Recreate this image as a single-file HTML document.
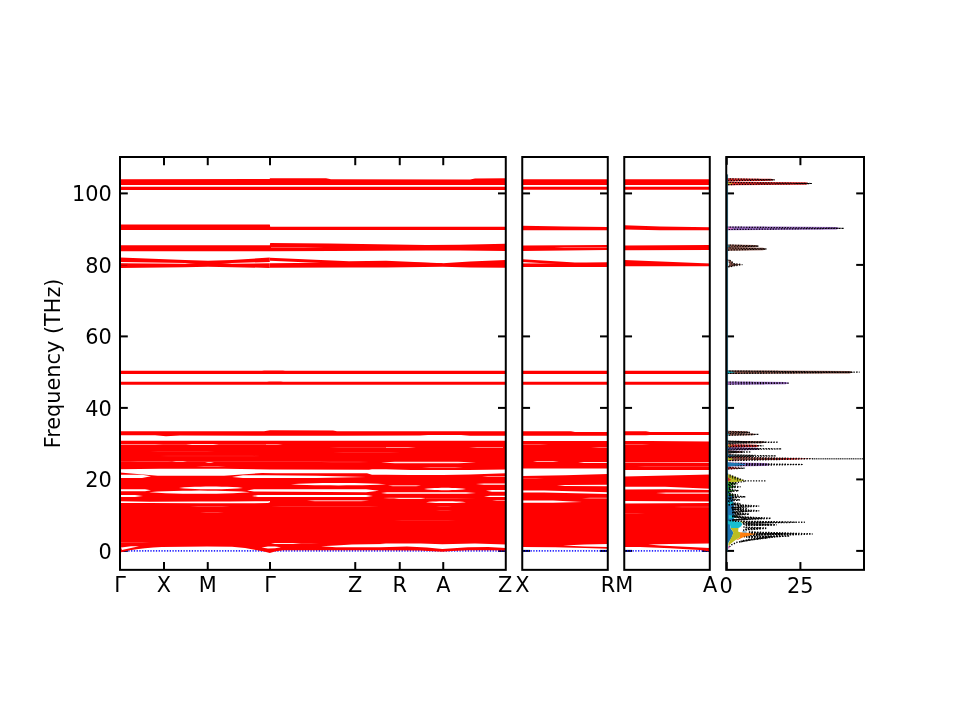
<!DOCTYPE html>
<html><head><meta charset="utf-8"><title>Phonon bands and DOS</title>
<style>html,body{margin:0;padding:0;background:#fff}svg{display:block}
text{font-family:"DejaVu Sans","Liberation Sans",sans-serif;font-size:20.83px;fill:#000}</style></head>
<body><svg width="960" height="720" viewBox="0 0 960 720">
<rect width="960" height="720" fill="#fff"/>
<path d="M120.00 550.90 L127.80 550.90" fill="none" stroke="#000" stroke-width="2.00" />
<path d="M505.78 550.90 L497.98 550.90" fill="none" stroke="#000" stroke-width="2.00" />
<path d="M120.00 479.40 L127.80 479.40" fill="none" stroke="#000" stroke-width="2.00" />
<path d="M505.78 479.40 L497.98 479.40" fill="none" stroke="#000" stroke-width="2.00" />
<path d="M120.00 407.90 L127.80 407.90" fill="none" stroke="#000" stroke-width="2.00" />
<path d="M505.78 407.90 L497.98 407.90" fill="none" stroke="#000" stroke-width="2.00" />
<path d="M120.00 336.40 L127.80 336.40" fill="none" stroke="#000" stroke-width="2.00" />
<path d="M505.78 336.40 L497.98 336.40" fill="none" stroke="#000" stroke-width="2.00" />
<path d="M120.00 264.90 L127.80 264.90" fill="none" stroke="#000" stroke-width="2.00" />
<path d="M505.78 264.90 L497.98 264.90" fill="none" stroke="#000" stroke-width="2.00" />
<path d="M120.00 193.40 L127.80 193.40" fill="none" stroke="#000" stroke-width="2.00" />
<path d="M505.78 193.40 L497.98 193.40" fill="none" stroke="#000" stroke-width="2.00" />
<path d="M164.00 569.85 L164.00 562.05" fill="none" stroke="#000" stroke-width="2.00" />
<path d="M164.00 157.00 L164.00 165.20" fill="none" stroke="#000" stroke-width="2.00" />
<path d="M207.75 569.85 L207.75 562.05" fill="none" stroke="#000" stroke-width="2.00" />
<path d="M207.75 157.00 L207.75 165.20" fill="none" stroke="#000" stroke-width="2.00" />
<path d="M270.00 569.85 L270.00 562.05" fill="none" stroke="#000" stroke-width="2.00" />
<path d="M270.00 157.00 L270.00 165.20" fill="none" stroke="#000" stroke-width="2.00" />
<path d="M355.25 569.85 L355.25 562.05" fill="none" stroke="#000" stroke-width="2.00" />
<path d="M355.25 157.00 L355.25 165.20" fill="none" stroke="#000" stroke-width="2.00" />
<path d="M399.75 569.85 L399.75 562.05" fill="none" stroke="#000" stroke-width="2.00" />
<path d="M399.75 157.00 L399.75 165.20" fill="none" stroke="#000" stroke-width="2.00" />
<path d="M443.25 569.85 L443.25 562.05" fill="none" stroke="#000" stroke-width="2.00" />
<path d="M443.25 157.00 L443.25 165.20" fill="none" stroke="#000" stroke-width="2.00" />
<path d="M522.25 550.90 L530.05 550.90" fill="none" stroke="#000" stroke-width="2.00" />
<path d="M607.78 550.90 L599.98 550.90" fill="none" stroke="#000" stroke-width="2.00" />
<path d="M522.25 479.40 L530.05 479.40" fill="none" stroke="#000" stroke-width="2.00" />
<path d="M607.78 479.40 L599.98 479.40" fill="none" stroke="#000" stroke-width="2.00" />
<path d="M522.25 407.90 L530.05 407.90" fill="none" stroke="#000" stroke-width="2.00" />
<path d="M607.78 407.90 L599.98 407.90" fill="none" stroke="#000" stroke-width="2.00" />
<path d="M522.25 336.40 L530.05 336.40" fill="none" stroke="#000" stroke-width="2.00" />
<path d="M607.78 336.40 L599.98 336.40" fill="none" stroke="#000" stroke-width="2.00" />
<path d="M522.25 264.90 L530.05 264.90" fill="none" stroke="#000" stroke-width="2.00" />
<path d="M607.78 264.90 L599.98 264.90" fill="none" stroke="#000" stroke-width="2.00" />
<path d="M522.25 193.40 L530.05 193.40" fill="none" stroke="#000" stroke-width="2.00" />
<path d="M607.78 193.40 L599.98 193.40" fill="none" stroke="#000" stroke-width="2.00" />
<path d="M624.25 550.90 L632.05 550.90" fill="none" stroke="#000" stroke-width="2.00" />
<path d="M709.78 550.90 L701.98 550.90" fill="none" stroke="#000" stroke-width="2.00" />
<path d="M624.25 479.40 L632.05 479.40" fill="none" stroke="#000" stroke-width="2.00" />
<path d="M709.78 479.40 L701.98 479.40" fill="none" stroke="#000" stroke-width="2.00" />
<path d="M624.25 407.90 L632.05 407.90" fill="none" stroke="#000" stroke-width="2.00" />
<path d="M709.78 407.90 L701.98 407.90" fill="none" stroke="#000" stroke-width="2.00" />
<path d="M624.25 336.40 L632.05 336.40" fill="none" stroke="#000" stroke-width="2.00" />
<path d="M709.78 336.40 L701.98 336.40" fill="none" stroke="#000" stroke-width="2.00" />
<path d="M624.25 264.90 L632.05 264.90" fill="none" stroke="#000" stroke-width="2.00" />
<path d="M709.78 264.90 L701.98 264.90" fill="none" stroke="#000" stroke-width="2.00" />
<path d="M624.25 193.40 L632.05 193.40" fill="none" stroke="#000" stroke-width="2.00" />
<path d="M709.78 193.40 L701.98 193.40" fill="none" stroke="#000" stroke-width="2.00" />
<path d="M726.25 550.90 L734.05 550.90" fill="none" stroke="#000" stroke-width="2.00" />
<path d="M864.00 550.90 L856.20 550.90" fill="none" stroke="#000" stroke-width="2.00" />
<path d="M726.25 479.40 L734.05 479.40" fill="none" stroke="#000" stroke-width="2.00" />
<path d="M864.00 479.40 L856.20 479.40" fill="none" stroke="#000" stroke-width="2.00" />
<path d="M726.25 407.90 L734.05 407.90" fill="none" stroke="#000" stroke-width="2.00" />
<path d="M864.00 407.90 L856.20 407.90" fill="none" stroke="#000" stroke-width="2.00" />
<path d="M726.25 336.40 L734.05 336.40" fill="none" stroke="#000" stroke-width="2.00" />
<path d="M864.00 336.40 L856.20 336.40" fill="none" stroke="#000" stroke-width="2.00" />
<path d="M726.25 264.90 L734.05 264.90" fill="none" stroke="#000" stroke-width="2.00" />
<path d="M864.00 264.90 L856.20 264.90" fill="none" stroke="#000" stroke-width="2.00" />
<path d="M726.25 193.40 L734.05 193.40" fill="none" stroke="#000" stroke-width="2.00" />
<path d="M864.00 193.40 L856.20 193.40" fill="none" stroke="#000" stroke-width="2.00" />
<path d="M800.40 569.85 L800.40 562.05" fill="none" stroke="#000" stroke-width="2.00" />
<path d="M800.40 157.00 L800.40 165.20" fill="none" stroke="#000" stroke-width="2.00" />
<path d="M726.75 157.00 L726.75 164.80" fill="none" stroke="#000" stroke-width="2.00" />
<path d="M726.75 569.85 L726.75 562.05" fill="none" stroke="#000" stroke-width="2.00" />
<defs>
<clipPath id="c0"><rect x="120.00" y="157.00" width="385.78" height="412.85"/></clipPath>
<clipPath id="c1"><rect x="522.25" y="157.00" width="85.53" height="412.85"/></clipPath>
<clipPath id="c2"><rect x="624.25" y="157.00" width="85.53" height="412.85"/></clipPath>
<clipPath id="c3"><rect x="726.25" y="157.00" width="137.75" height="412.85"/></clipPath>
</defs>
<path d="M120.00 550.90 H505.78" stroke="#0000ff" stroke-width="1.6" stroke-dasharray="1.3 1.46" stroke-opacity="0.85" fill="none"/>
<path d="M522.25 550.90 H607.78" stroke="#0000ff" stroke-width="1.6" stroke-dasharray="1.3 1.46" stroke-opacity="0.85" fill="none"/>
<path d="M624.25 550.90 H709.78" stroke="#0000ff" stroke-width="1.6" stroke-dasharray="1.3 1.46" stroke-opacity="0.85" fill="none"/>
<g clip-path="url(#c0)">
<path d="M120.00 179.20 L269.60 179.10 L270.00 178.20 L326.00 178.30 L331.00 179.20 L470.00 179.40 L475.00 178.40 L505.70 178.30 L505.70 185.00 L475.00 185.00 L470.00 185.00 L331.00 185.00 L326.00 185.00 L270.00 185.00 L269.60 185.00 L120.00 185.00Z" fill="#ff0000" />
<path d="M120.00 186.70 L505.70 186.70 L505.70 190.00 L120.00 190.00Z" fill="#ff0000" />
<path d="M120.00 224.60 L269.80 224.50 L270.20 226.70 L505.70 226.70 L505.70 230.00 L270.20 230.00 L269.80 230.00 L120.00 230.00Z" fill="#ff0000" />
<path d="M120.00 245.30 L269.80 245.20 L270.20 242.90 L330.00 243.60 L426.00 245.00 L460.00 244.80 L505.70 243.80 L505.70 250.90 L460.00 250.60 L426.00 250.50 L330.00 251.00 L270.20 251.20 L269.80 251.20 L120.00 251.20Z" fill="#ff0000" />
<path d="M271.00 247.00 L304.00 247.00 L324.00 247.25 L304.00 247.50 L271.00 247.50Z" fill="#ffffff" fill-opacity="0.60"/>
<path d="M120.00 257.50 L185.00 259.90 L208.00 260.80 L232.00 259.90 L269.80 257.50 L269.80 261.90 L232.00 263.10 L208.00 265.00 L185.00 263.10 L120.00 262.00Z" fill="#ff0000" />
<path d="M120.00 263.30 L185.00 263.80 L208.00 262.50 L232.00 263.80 L269.80 263.30 L269.80 267.90 L232.00 267.20 L208.00 266.70 L185.00 267.20 L120.00 268.00Z" fill="#ff0000" />
<path d="M121.00 264.90 L127.30 264.90 L127.30 265.70 L121.00 265.70Z" fill="#990000" fill-opacity="0.75"/>
<path d="M270.00 257.80 L349.00 261.30 L386.00 260.80 L442.70 263.30 L442.70 265.00 L386.00 264.00 L349.00 264.30 L270.00 260.80Z" fill="#ff0000" />
<path d="M270.00 263.30 L349.00 262.60 L386.00 262.00 L442.70 263.30 L470.00 261.60 L505.70 260.00 L505.70 267.80 L470.00 267.40 L442.70 266.70 L386.00 267.50 L349.00 267.50 L270.00 267.80Z" fill="#ff0000" />
<path d="M120.00 370.70 L262.00 370.70 L264.00 370.40 L283.00 370.40 L285.00 370.70 L505.70 370.70 L505.70 373.90 L285.00 373.90 L283.00 373.90 L264.00 373.90 L262.00 373.90 L120.00 373.90Z" fill="#ff0000" />
<path d="M120.00 381.70 L267.00 381.70 L269.00 381.40 L281.00 381.40 L283.00 381.70 L505.70 381.70 L505.70 384.80 L283.00 384.80 L281.00 384.80 L269.00 384.80 L267.00 384.80 L120.00 384.80Z" fill="#ff0000" />
<path d="M120.00 431.20 L155.00 431.20 L166.00 431.20 L180.00 431.20 L264.00 431.20 L270.00 430.30 L333.00 430.40 L337.00 431.30 L420.00 431.30 L428.00 431.30 L461.00 431.30 L470.00 431.30 L505.70 431.30 L505.70 435.80 L470.00 435.80 L461.00 435.00 L428.00 435.00 L420.00 435.60 L337.00 435.80 L333.00 435.80 L270.00 435.80 L264.00 435.80 L180.00 435.60 L166.00 436.30 L155.00 435.30 L120.00 435.30Z" fill="#ff0000" />
<path d="M120.00 440.80 L505.70 440.80 L505.70 550.50 L490.00 550.30 L468.00 550.30 L452.00 551.00 L442.30 551.70 L433.00 551.20 L420.00 550.50 L380.00 550.30 L350.00 550.20 L330.00 550.20 L300.00 550.20 L283.00 550.30 L275.00 551.60 L269.80 552.90 L264.00 551.60 L256.00 550.00 L245.00 548.00 L232.00 546.80 L207.00 546.60 L185.00 546.70 L161.80 546.90 L153.30 547.40 L145.00 548.20 L136.70 549.20 L128.30 550.50 L120.00 552.40Z" fill="#ff0000" />
<path d="M120.00 444.20 L155.00 444.20 L163.00 444.55 L155.00 444.90 L120.00 444.90Z" fill="#ffffff" fill-opacity="0.55"/>
<path d="M186.00 444.50 L192.00 444.00 L213.00 444.00 L219.00 444.50 L213.00 445.00 L192.00 445.00Z" fill="#ffffff" fill-opacity="0.85"/>
<path d="M266.00 444.20 L278.00 444.20 L283.00 444.55 L278.00 444.90 L266.00 444.90Z" fill="#ffffff" fill-opacity="0.50"/>
<path d="M329.00 447.50 L339.00 447.20 L406.00 447.20 L416.00 447.50 L406.00 447.80 L339.00 447.80Z" fill="#ffffff" fill-opacity="0.35"/>
<path d="M386.00 447.10 L408.00 447.10 L416.00 447.50 L408.00 447.90 L386.00 447.90Z" fill="#ffffff" fill-opacity="0.50"/>
<path d="M469.00 447.50 L477.00 447.10 L503.00 447.10 L503.00 447.90 L477.00 447.90Z" fill="#ffffff" fill-opacity="0.50"/>
<path d="M333.00 452.50 L343.00 452.20 L390.00 452.20 L400.00 452.50 L390.00 452.80 L343.00 452.80Z" fill="#ffffff" fill-opacity="0.25"/>
<path d="M172.00 461.30 L176.00 460.90 L183.00 460.90 L187.00 461.30 L183.00 461.70 L176.00 461.70Z" fill="#ffffff" fill-opacity="0.80"/>
<path d="M205.00 462.45 L208.00 462.00 L211.00 462.00 L214.00 462.45 L211.00 462.90 L208.00 462.90Z" fill="#ffffff" fill-opacity="0.70"/>
<path d="M130.00 461.25 L138.00 461.00 L168.00 461.00 L172.00 461.25 L168.00 461.50 L138.00 461.50Z" fill="#ffffff" fill-opacity="0.30"/>
<path d="M321.00 462.00 L331.00 461.70 L359.00 461.70 L369.00 462.00 L359.00 462.30 L331.00 462.30Z" fill="#ffffff" fill-opacity="0.35"/>
<path d="M381.00 462.50 L395.00 461.80 L458.00 461.80 L476.00 462.50 L458.00 463.20 L395.00 463.20Z" fill="#ffffff" fill-opacity="0.90"/>
<path d="M196.00 466.35 L204.00 466.00 L218.00 466.00 L226.00 466.35 L218.00 466.70 L204.00 466.70Z" fill="#ffffff" fill-opacity="0.45"/>
<path d="M422.00 467.45 L430.00 467.10 L455.00 467.10 L463.00 467.45 L455.00 467.80 L430.00 467.80Z" fill="#ffffff" fill-opacity="0.50"/>
<path d="M120.00 444.10 L276.00 444.10 L282.00 444.45 L276.00 444.80 L120.00 444.80Z" fill="#ffffff" fill-opacity="0.30"/>
<path d="M120.00 461.00 L320.00 461.00 L330.00 461.30 L320.00 461.60 L120.00 461.60Z" fill="#ffffff" fill-opacity="0.28"/>
<path d="M150.00 451.45 L158.00 451.20 L207.00 451.20 L215.00 451.45 L207.00 451.70 L158.00 451.70Z" fill="#ffffff" fill-opacity="0.20"/>
<path d="M160.00 456.05 L168.00 455.80 L252.00 455.80 L260.00 456.05 L252.00 456.30 L168.00 456.30Z" fill="#ffffff" fill-opacity="0.18"/>
<path d="M120.00 469.20 L160.00 468.70 L225.00 468.80 L270.00 469.60 L369.00 469.70 L372.00 469.20 L386.00 469.20 L411.00 470.00 L469.00 470.00 L505.70 469.60 L505.70 473.20 L470.00 474.40 L442.70 475.00 L410.00 474.90 L386.00 474.70 L372.00 474.70 L367.00 473.30 L276.00 473.20 L262.00 473.00 L224.00 475.80 L157.70 475.80 L140.00 474.20 L120.00 472.50Z" fill="#ffffff" />
<path d="M120.00 474.70 L142.00 474.70 L151.00 476.35 L142.00 478.00 L120.00 478.00Z" fill="#ffffff" />
<path d="M232.00 476.90 L243.00 475.20 L266.00 475.20 L316.00 475.80 L366.00 476.90 L316.00 478.00 L266.00 478.00 L243.00 478.00Z" fill="#ffffff" />
<path d="M482.00 476.35 L488.00 476.00 L505.70 476.00 L505.70 476.70 L488.00 476.70Z" fill="#ffffff" fill-opacity="0.70"/>
<path d="M120.00 489.20 L145.00 489.20 L151.00 490.25 L145.00 491.30 L120.00 491.30Z" fill="#ffffff" />
<path d="M179.00 487.90 L184.33 487.36 L189.67 487.04 L195.00 486.80 L200.33 486.63 L205.67 486.53 L211.00 486.50 L216.33 486.53 L221.67 486.63 L227.00 486.80 L232.33 487.04 L237.67 487.36 L243.00 487.90 L243.00 487.90 L237.67 488.44 L232.33 488.76 L227.00 489.00 L221.67 489.17 L216.33 489.27 L211.00 489.30 L205.67 489.27 L200.33 489.17 L195.00 489.00 L189.67 488.76 L184.33 488.44 L179.00 487.90Z" fill="#ffffff" />
<path d="M149.00 492.20 L157.42 491.58 L165.83 491.22 L174.25 490.94 L182.67 490.75 L191.08 490.64 L199.50 490.60 L207.92 490.64 L216.33 490.75 L224.75 490.94 L233.17 491.22 L241.58 491.58 L250.00 492.20 L250.00 492.20 L241.58 492.82 L233.17 493.18 L224.75 493.46 L216.33 493.65 L207.92 493.76 L199.50 493.80 L191.08 493.76 L182.67 493.65 L174.25 493.46 L165.83 493.18 L157.42 492.82 L149.00 492.20Z" fill="#ffffff" />
<path d="M247.00 490.40 L254.00 489.30 L366.00 489.20 L379.00 490.80 L366.00 492.20 L254.00 491.60Z" fill="#ffffff" />
<path d="M291.00 484.15 L298.92 483.66 L306.83 483.38 L314.75 483.17 L322.67 483.02 L330.58 482.93 L338.50 482.90 L346.42 482.93 L354.33 483.02 L362.25 483.17 L370.17 483.38 L378.08 483.66 L386.00 484.15 L386.00 484.15 L378.08 484.64 L370.17 484.92 L362.25 485.13 L354.33 485.28 L346.42 485.37 L338.50 485.40 L330.58 485.37 L322.67 485.28 L314.75 485.13 L306.83 484.92 L298.92 484.64 L291.00 484.15Z" fill="#ffffff" />
<path d="M388.00 485.80 L393.00 485.30 L416.00 485.30 L421.00 485.80 L416.00 486.30 L393.00 486.30Z" fill="#ffffff" fill-opacity="0.80"/>
<path d="M381.00 493.00 L387.00 492.20 L466.00 492.20 L476.00 493.00 L466.00 493.80 L387.00 493.80Z" fill="#ffffff" />
<path d="M476.00 484.05 L484.00 483.40 L505.70 483.40 L505.70 484.70 L484.00 484.70Z" fill="#ffffff" />
<path d="M424.00 489.00 L427.50 488.53 L431.00 488.26 L434.50 488.06 L438.00 487.91 L441.50 487.83 L445.00 487.80 L448.50 487.83 L452.00 487.91 L455.50 488.06 L459.00 488.26 L462.50 488.53 L466.00 489.00 L466.00 489.00 L462.50 489.47 L459.00 489.74 L455.50 489.94 L452.00 490.09 L448.50 490.17 L445.00 490.20 L441.50 490.17 L438.00 490.09 L434.50 489.94 L431.00 489.74 L427.50 489.47 L424.00 489.00Z" fill="#ffffff" />
<path d="M486.00 490.85 L492.00 490.00 L505.70 490.00 L505.70 491.70 L492.00 491.70Z" fill="#ffffff" />
<path d="M120.00 495.00 L135.00 495.00 L143.00 496.00 L135.00 497.00 L120.00 497.00Z" fill="#ffffff" />
<path d="M252.00 496.00 L258.00 495.00 L366.00 495.00 L373.00 496.00 L366.00 497.00 L258.00 497.00Z" fill="#ffffff" />
<path d="M383.00 498.05 L389.00 497.70 L420.00 497.70 L426.00 498.05 L420.00 498.40 L389.00 498.40Z" fill="#ffffff" fill-opacity="0.60"/>
<path d="M484.00 496.40 L490.00 495.80 L505.70 495.80 L505.70 497.00 L490.00 497.00Z" fill="#ffffff" />
<path d="M394.00 498.50 L399.00 498.00 L421.00 498.00 L426.00 498.50 L421.00 499.00 L399.00 499.00Z" fill="#ffffff" fill-opacity="0.80"/>
<path d="M426.00 498.30 L456.00 498.30 L476.00 498.55 L456.00 498.80 L426.00 498.80Z" fill="#ffffff" fill-opacity="0.35"/>
<path d="M120.00 501.20 L150.00 501.70 L200.00 501.60 L230.00 501.50 L268.00 501.30 L270.00 500.90 L270.00 502.20 L268.00 503.10 L230.00 503.30 L200.00 503.30 L150.00 502.90 L120.00 503.00Z" fill="#ffffff" />
<path d="M307.00 500.80 L315.00 500.30 L361.00 500.30 L369.00 500.80 L361.00 501.30 L315.00 501.30Z" fill="#ffffff" fill-opacity="0.80"/>
<path d="M426.00 502.15 L429.33 501.78 L432.67 501.57 L436.00 501.40 L439.33 501.29 L442.67 501.22 L446.00 501.20 L449.33 501.22 L452.67 501.29 L456.00 501.40 L459.33 501.57 L462.67 501.78 L466.00 502.15 L466.00 502.15 L462.67 502.52 L459.33 502.73 L456.00 502.90 L452.67 503.01 L449.33 503.08 L446.00 503.10 L442.67 503.08 L439.33 503.01 L436.00 502.90 L432.67 502.73 L429.33 502.52 L426.00 502.15Z" fill="#ffffff" />
<path d="M492.00 500.35 L497.00 500.00 L505.70 500.00 L505.70 500.70 L497.00 500.70Z" fill="#ffffff" fill-opacity="0.70"/>
<path d="M271.00 506.70 L281.00 506.40 L369.00 506.40 L379.00 506.70 L369.00 507.00 L281.00 507.00Z" fill="#ffffff" fill-opacity="0.30"/>
<path d="M190.00 506.60 L198.00 506.30 L222.00 506.30 L230.00 506.60 L222.00 506.90 L198.00 506.90Z" fill="#ffffff" fill-opacity="0.30"/>
<path d="M200.00 512.60 L206.00 512.30 L218.00 512.30 L224.00 512.60 L218.00 512.90 L206.00 512.90Z" fill="#ffffff" fill-opacity="0.30"/>
<path d="M436.00 506.70 L440.00 506.40 L448.00 506.40 L452.00 506.70 L448.00 507.00 L440.00 507.00Z" fill="#ffffff" fill-opacity="0.35"/>
<path d="M436.00 510.50 L440.00 510.20 L448.00 510.20 L452.00 510.50 L448.00 510.80 L440.00 510.80Z" fill="#ffffff" fill-opacity="0.30"/>
<path d="M394.00 520.65 L402.00 520.40 L448.00 520.40 L456.00 520.65 L448.00 520.90 L402.00 520.90Z" fill="#ffffff" fill-opacity="0.20"/>
<path d="M271.00 543.30 L276.00 543.00 L311.00 543.00 L319.00 543.30 L311.00 543.60 L276.00 543.60Z" fill="#ffffff" fill-opacity="0.35"/>
<path d="M120.00 542.50 L142.00 542.50 L150.00 542.80 L142.00 543.10 L120.00 543.10Z" fill="#ffffff" fill-opacity="0.35"/>
<path d="M121.00 547.60 L131.00 546.20 L139.00 546.30 L131.00 548.00 L122.00 549.90Z" fill="#ffffff" />
<path d="M261.50 547.40 L268.00 546.60 L275.00 546.60 L281.00 547.30 L275.00 548.30 L268.00 548.40Z" fill="#ffffff" />
<path d="M271.00 543.50 L275.00 543.00 L293.00 543.00 L301.00 543.50 L293.00 544.00 L275.00 544.00Z" fill="#ffffff" fill-opacity="0.90"/>
<path d="M321.00 546.30 L336.00 545.60 L352.00 544.60 L386.00 544.00 L380.00 543.60 L420.60 543.50 L442.30 544.20 L475.00 543.50 L505.70 544.60 L505.70 547.90 L488.00 546.90 L468.00 547.30 L442.30 549.00 L427.00 547.60 L407.00 546.50 L380.00 547.30 L352.00 547.30 L336.00 547.30Z" fill="#ffffff" />
</g>
<g clip-path="url(#c1)">
<path d="M522.25 179.20 L607.78 179.20 L607.78 184.90 L522.25 184.90Z" fill="#ff0000" />
<path d="M522.25 186.80 L607.78 186.80 L607.78 189.80 L522.25 189.80Z" fill="#ff0000" />
<path d="M522.25 225.80 L565.00 226.60 L607.78 227.00 L607.78 230.20 L565.00 230.20 L522.25 230.20Z" fill="#ff0000" />
<path d="M522.25 245.50 L607.78 245.00 L607.78 250.00 L522.25 251.00Z" fill="#ff0000" />
<path d="M554.00 247.65 L564.00 247.40 L607.78 247.40 L607.78 247.90 L564.00 247.90Z" fill="#ffffff" fill-opacity="0.70"/>
<path d="M522.25 259.30 L575.00 262.40 L607.78 262.40 L607.78 265.50 L575.00 265.00 L522.25 261.90Z" fill="#ff0000" />
<path d="M522.25 263.60 L575.00 263.30 L607.78 262.40 L607.78 267.00 L575.00 267.00 L522.25 267.00Z" fill="#ff0000" />
<path d="M522.25 370.70 L607.78 370.70 L607.78 373.90 L522.25 373.90Z" fill="#ff0000" />
<path d="M522.25 381.70 L607.78 381.70 L607.78 384.80 L522.25 384.80Z" fill="#ff0000" />
<path d="M522.25 431.20 L571.00 431.20 L575.00 432.10 L607.78 432.10 L607.78 435.70 L575.00 435.70 L571.00 435.70 L522.25 435.70Z" fill="#ff0000" />
<path d="M522.25 440.90 L607.78 440.90 L607.78 548.80 L585.00 548.00 L555.00 547.20 L522.25 547.00Z" fill="#ff0000" />
<path d="M522.25 444.00 L540.00 444.00 L548.00 444.30 L540.00 444.60 L522.25 444.60Z" fill="#ffffff" fill-opacity="0.60"/>
<path d="M591.00 447.55 L599.00 447.20 L607.78 447.20 L607.78 447.90 L599.00 447.90Z" fill="#ffffff" fill-opacity="0.55"/>
<path d="M533.00 461.60 L537.00 461.20 L553.00 461.20 L559.00 461.60 L553.00 462.00 L537.00 462.00Z" fill="#ffffff" fill-opacity="0.90"/>
<path d="M578.00 462.55 L584.00 462.10 L607.78 462.10 L607.78 463.00 L584.00 463.00Z" fill="#ffffff" fill-opacity="0.90"/>
<path d="M522.25 468.50 L607.78 468.50 L607.78 474.10 L565.00 475.20 L522.25 476.00Z" fill="#ffffff" />
<path d="M522.25 478.20 L536.00 478.20 L544.00 478.50 L536.00 478.80 L522.25 478.80Z" fill="#ffffff" fill-opacity="0.45"/>
<path d="M557.00 485.40 L565.00 484.90 L607.78 484.70 L607.78 486.30 L565.00 485.90Z" fill="#ffffff" />
<path d="M522.25 490.60 L544.00 490.60 L607.78 492.20 L607.78 493.90 L544.00 492.50 L522.25 492.50Z" fill="#ffffff" />
<path d="M582.00 498.15 L590.00 497.80 L607.78 497.80 L607.78 498.50 L590.00 498.50Z" fill="#ffffff" fill-opacity="0.70"/>
<path d="M522.25 500.60 L553.00 500.60 L582.00 501.90 L553.00 502.80 L522.25 502.80Z" fill="#ffffff" />
<path d="M563.00 545.60 L585.00 544.60 L607.78 544.00 L607.78 547.00 L585.00 546.60Z" fill="#ffffff" />
</g>
<g clip-path="url(#c2)">
<path d="M624.25 179.20 L709.78 179.20 L709.78 184.90 L624.25 184.90Z" fill="#ff0000" />
<path d="M624.25 186.80 L709.78 186.80 L709.78 189.80 L624.25 189.80Z" fill="#ff0000" />
<path d="M624.25 225.30 L660.00 226.60 L709.78 227.30 L709.78 230.20 L660.00 230.20 L624.25 229.50Z" fill="#ff0000" />
<path d="M624.25 245.50 L709.78 245.00 L709.78 249.90 L624.25 250.30Z" fill="#ff0000" />
<path d="M624.25 260.10 L709.78 263.40 L709.78 266.30 L624.25 266.30Z" fill="#ff0000" />
<path d="M624.25 370.70 L709.78 370.70 L709.78 373.90 L624.25 373.90Z" fill="#ff0000" />
<path d="M624.25 381.70 L709.78 381.70 L709.78 384.80 L624.25 384.80Z" fill="#ff0000" />
<path d="M624.25 431.20 L646.00 431.20 L650.00 432.10 L709.78 432.10 L709.78 434.90 L650.00 434.90 L646.00 435.30 L624.25 435.30Z" fill="#ff0000" />
<path d="M624.25 440.90 L650.00 440.90 L709.78 441.50 L709.78 551.40 L700.00 550.00 L670.00 548.20 L640.00 547.00 L624.25 546.90Z" fill="#ff0000" />
<path d="M624.25 444.00 L642.00 444.00 L650.00 444.30 L642.00 444.60 L624.25 444.60Z" fill="#ffffff" fill-opacity="0.60"/>
<path d="M624.25 461.90 L709.78 462.00 L709.78 462.70 L624.25 462.40Z" fill="#ffffff" fill-opacity="0.90"/>
<path d="M637.00 466.65 L645.00 466.40 L709.78 466.40 L709.78 466.90 L645.00 466.90Z" fill="#ffffff" fill-opacity="0.40"/>
<path d="M624.25 470.00 L709.78 470.00 L709.78 474.40 L678.00 475.30 L624.25 476.60Z" fill="#ffffff" />
<path d="M624.25 486.80 L665.00 486.80 L709.78 488.70 L709.78 490.10 L665.00 489.30 L624.25 489.50Z" fill="#ffffff" />
<path d="M656.00 493.10 L666.00 492.50 L709.78 492.50 L709.78 493.70 L666.00 493.70Z" fill="#ffffff" fill-opacity="0.90"/>
<path d="M624.25 500.90 L709.78 501.40 L709.78 503.10 L624.25 503.50Z" fill="#ffffff" />
<path d="M674.00 507.05 L682.00 506.80 L709.78 506.80 L709.78 507.30 L682.00 507.30Z" fill="#ffffff" fill-opacity="0.40"/>
<path d="M624.25 513.00 L637.00 513.00 L645.00 513.25 L637.00 513.50 L624.25 513.50Z" fill="#ffffff" fill-opacity="0.30"/>
<path d="M648.00 544.60 L670.00 544.10 L709.78 543.60 L709.78 547.90 L680.00 546.60 L660.00 545.60Z" fill="#ffffff" />
</g>
<g clip-path="url(#c3)">
<path d="M726.85 178.26 L771.00 178.76 L773.80 179.50 L774.40 179.80 L773.80 180.10 L771.00 180.84 L726.85 181.34Z" fill="#d62728" />
<path d="M726.85 178.81 L774.80 179.80 L726.85 180.79" fill="none" stroke="#000" stroke-width="1.20" stroke-opacity="1.00" stroke-dashoffset="0.00" stroke-dasharray="1.3 1.45" stroke-linecap="butt"/>
<path d="M726.85 181.78 L806.00 182.33 L808.80 183.20 L809.40 183.50 L808.80 183.80 L806.00 184.67 L726.85 185.22Z" fill="#d62728" />
<path d="M726.85 181.78 L729.50 182.93 L732.30 183.20 L732.90 183.50 L732.30 183.80 L729.50 184.07 L726.85 185.22Z" fill="#bcbd22" />
<path d="M726.85 182.38 L812.00 183.50 L726.85 184.62" fill="none" stroke="#000" stroke-width="1.20" stroke-opacity="1.00" stroke-dashoffset="0.00" stroke-dasharray="1.3 1.45" stroke-linecap="butt"/>
<path d="M726.85 226.40 L836.50 227.00 L839.30 228.00 L839.90 228.30 L839.30 228.60 L836.50 229.60 L726.85 230.20Z" fill="#9467bd" />
<path d="M726.85 226.40 L729.50 227.67 L732.30 228.00 L732.90 228.30 L732.30 228.60 L729.50 228.93 L726.85 230.20Z" fill="#e377c2" />
<path d="M726.85 227.06 L843.90 228.30 L726.85 229.54" fill="none" stroke="#000" stroke-width="1.20" stroke-opacity="1.00" stroke-dashoffset="0.00" stroke-dasharray="1.3 1.45" stroke-linecap="butt"/>
<path d="M726.85 244.38 L755.30 244.93 L758.10 245.80 L758.70 246.10 L758.10 246.40 L755.30 247.27 L726.85 247.82Z" fill="#8c564b" />
<path d="M726.85 244.38 L727.00 245.53 L729.80 245.80 L730.40 246.10 L729.80 246.40 L727.00 246.67 L726.85 247.82Z" fill="#17becf" />
<path d="M726.85 244.98 L758.60 246.10 L726.85 247.22" fill="none" stroke="#000" stroke-width="1.20" stroke-opacity="1.00" stroke-dashoffset="0.00" stroke-dasharray="1.3 1.45" stroke-linecap="butt"/>
<path d="M726.85 247.28 L763.00 247.83 L765.80 248.70 L766.40 249.00 L765.80 249.30 L763.00 250.17 L726.85 250.72Z" fill="#8c564b" />
<path d="M726.85 247.88 L766.60 249.00 L726.85 250.12" fill="none" stroke="#000" stroke-width="1.20" stroke-opacity="1.00" stroke-dashoffset="0.00" stroke-dasharray="1.3 1.45" stroke-linecap="butt"/>
<path d="M726.85 259.60 L729.50 260.00 L731.80 261.50 L733.00 263.40 L738.00 264.00 L741.80 264.60 L738.00 265.30 L733.00 266.20 L730.00 266.90 L726.85 267.00Z" fill="#8c564b" />
<path d="M726.85 260.50 L728.60 261.20 L729.40 263.50 L728.60 266.00 L726.85 266.40Z" fill="#fff" />
<path d="M726.85 261.00 L727.90 262.00 L728.20 265.00 L726.85 266.00Z" fill="#17becf" />
<path d="M726.85 259.70 L729.60 260.20 L731.90 261.80 L733.00 263.60 L742.40 264.60 L733.00 266.00 L730.00 266.80 L726.85 266.90" fill="none" stroke="#000" stroke-width="1.30" stroke-opacity="1.00" stroke-dashoffset="0.00" stroke-dasharray="1.3 1.45" stroke-linecap="butt"/>
<path d="M726.85 260.80 L728.80 261.50 L729.60 263.60 L736.00 264.60 L729.00 266.00" fill="none" stroke="#000" stroke-width="1.00" stroke-opacity="0.80" stroke-dashoffset="0.00" stroke-dasharray="1.3 1.45" stroke-linecap="butt"/>
<path d="M726.85 370.39 L849.50 370.97 L852.30 371.90 L852.90 372.20 L852.30 372.50 L849.50 373.43 L726.85 374.01Z" fill="#8c564b" />
<path d="M726.85 370.39 L731.70 371.60 L734.50 371.90 L735.10 372.20 L734.50 372.50 L731.70 372.80 L726.85 374.01Z" fill="#17becf" />
<path d="M726.85 371.06 L852.50 372.20 L726.85 373.34" fill="none" stroke="#000" stroke-width="1.00" stroke-opacity="0.85" stroke-dashoffset="0.90" stroke-dasharray="1.3 1.45" stroke-linecap="butt"/>
<path d="M726.85 371.02 L859.60 372.20 L726.85 373.38" fill="none" stroke="#000" stroke-width="1.20" stroke-opacity="1.00" stroke-dashoffset="0.00" stroke-dasharray="1.3 1.45" stroke-linecap="butt"/>
<path d="M726.85 381.47 L785.50 382.00 L788.30 382.80 L788.90 383.10 L788.30 383.40 L785.50 384.20 L726.85 384.73Z" fill="#9467bd" />
<path d="M726.85 381.47 L727.60 382.56 L730.40 382.80 L731.00 383.10 L730.40 383.40 L727.60 383.64 L726.85 384.73Z" fill="#e377c2" />
<path d="M726.85 382.05 L789.40 383.10 L726.85 384.15" fill="none" stroke="#000" stroke-width="1.20" stroke-opacity="1.00" stroke-dashoffset="0.00" stroke-dasharray="1.3 1.45" stroke-linecap="butt"/>
<path d="M726.85 430.85 L746.00 431.33 L748.80 432.00 L749.40 432.30 L748.80 432.60 L746.00 433.27 L726.85 433.75Z" fill="#8c564b" />
<path d="M726.85 431.37 L750.00 432.30 L726.85 433.23" fill="none" stroke="#000" stroke-width="1.20" stroke-opacity="1.00" stroke-dashoffset="0.00" stroke-dasharray="1.3 1.45" stroke-linecap="butt"/>
<path d="M726.85 432.95 L752.50 433.43 L755.30 434.10 L755.90 434.40 L755.30 434.70 L752.50 435.37 L726.85 435.85Z" fill="#8c564b" />
<path d="M726.85 432.95 L726.60 433.93 L729.40 434.10 L730.00 434.40 L729.40 434.70 L726.60 434.87 L726.85 435.85Z" fill="#17becf" />
<path d="M726.85 433.47 L758.80 434.40 L726.85 435.33" fill="none" stroke="#000" stroke-width="1.20" stroke-opacity="1.00" stroke-dashoffset="0.00" stroke-dasharray="1.3 1.45" stroke-linecap="butt"/>
<path d="M726.85 440.66 L762.00 441.16 L764.80 441.90 L765.40 442.20 L764.80 442.50 L762.00 443.24 L726.85 443.74Z" fill="#8c564b" />
<path d="M726.85 440.66 L743.00 441.70 L745.80 441.90 L746.40 442.20 L745.80 442.50 L743.00 442.70 L726.85 443.74Z" fill="#7f7f7f" />
<path d="M726.85 441.24 L765.00 442.20 L726.85 443.16" fill="none" stroke="#000" stroke-width="1.00" stroke-opacity="0.85" stroke-dashoffset="0.90" stroke-dasharray="1.3 1.45" stroke-linecap="butt"/>
<path d="M726.85 441.24 L746.00 442.20 L726.85 443.16" fill="none" stroke="#000" stroke-width="1.00" stroke-opacity="0.85" stroke-dashoffset="1.80" stroke-dasharray="1.3 1.45" stroke-linecap="butt"/>
<path d="M726.85 441.21 L778.20 442.20 L726.85 443.19" fill="none" stroke="#000" stroke-width="1.20" stroke-opacity="1.00" stroke-dashoffset="0.00" stroke-dasharray="1.3 1.45" stroke-linecap="butt"/>
<path d="M726.85 444.17 L756.50 444.70 L759.30 445.50 L759.90 445.80 L759.30 446.10 L756.50 446.90 L726.85 447.43Z" fill="#d62728" />
<path d="M726.85 444.17 L729.00 445.26 L731.80 445.50 L732.40 445.80 L731.80 446.10 L729.00 446.34 L726.85 447.43Z" fill="#bcbd22" />
<path d="M726.85 444.75 L763.50 445.80 L726.85 446.85" fill="none" stroke="#000" stroke-width="1.20" stroke-opacity="1.00" stroke-dashoffset="0.00" stroke-dasharray="1.3 1.45" stroke-linecap="butt"/>
<path d="M726.85 447.36 L756.50 447.86 L759.30 448.60 L759.90 448.90 L759.30 449.20 L756.50 449.94 L726.85 450.44Z" fill="#9467bd" />
<path d="M726.85 447.36 L729.00 448.40 L731.80 448.60 L732.40 448.90 L731.80 449.20 L729.00 449.40 L726.85 450.44Z" fill="#1f77b4" />
<path d="M726.85 447.94 L759.50 448.90 L726.85 449.86" fill="none" stroke="#000" stroke-width="1.00" stroke-opacity="0.85" stroke-dashoffset="0.90" stroke-dasharray="1.3 1.45" stroke-linecap="butt"/>
<path d="M726.85 447.91 L781.50 448.90 L726.85 449.89" fill="none" stroke="#000" stroke-width="1.20" stroke-opacity="1.00" stroke-dashoffset="0.00" stroke-dasharray="1.3 1.45" stroke-linecap="butt"/>
<path d="M726.85 450.55 L740.00 451.53 L742.80 451.70 L743.40 452.00 L742.80 452.30 L740.00 452.47 L726.85 453.45Z" fill="#d62728" />
<path d="M726.85 450.55 L734.00 451.53 L736.80 451.70 L737.40 452.00 L736.80 452.30 L734.00 452.47 L726.85 453.45Z" fill="#7f7f7f" />
<path d="M726.85 451.10 L743.00 452.00 L726.85 452.90" fill="none" stroke="#000" stroke-width="1.00" stroke-opacity="0.85" stroke-dashoffset="0.90" stroke-dasharray="1.3 1.45" stroke-linecap="butt"/>
<path d="M726.85 451.10 L737.00 452.00 L726.85 452.90" fill="none" stroke="#000" stroke-width="1.00" stroke-opacity="0.85" stroke-dashoffset="1.80" stroke-dasharray="1.3 1.45" stroke-linecap="butt"/>
<path d="M726.85 451.07 L751.00 452.00 L726.85 452.93" fill="none" stroke="#000" stroke-width="1.20" stroke-opacity="1.00" stroke-dashoffset="0.00" stroke-dasharray="1.3 1.45" stroke-linecap="butt"/>
<path d="M726.85 454.27 L751.00 454.80 L753.80 455.60 L754.40 455.90 L753.80 456.20 L751.00 457.00 L726.85 457.53Z" fill="#7f7f7f" />
<path d="M726.85 454.27 L731.00 455.36 L733.80 455.60 L734.40 455.90 L733.80 456.20 L731.00 456.44 L726.85 457.53Z" fill="#1f77b4" />
<path d="M726.85 454.88 L754.00 455.90 L726.85 456.92" fill="none" stroke="#000" stroke-width="1.00" stroke-opacity="0.85" stroke-dashoffset="0.90" stroke-dasharray="1.3 1.45" stroke-linecap="butt"/>
<path d="M726.85 454.85 L776.00 455.90 L726.85 456.95" fill="none" stroke="#000" stroke-width="1.20" stroke-opacity="1.00" stroke-dashoffset="0.00" stroke-dasharray="1.3 1.45" stroke-linecap="butt"/>
<path d="M726.85 456.90 L750.00 457.60 L790.00 457.90 L812.60 458.75 L790.00 459.70 L750.00 460.00 L726.85 460.70Z" fill="#d62728" />
<path d="M726.85 457.50 L770.00 458.30 L784.50 458.90 L770.00 459.50 L726.85 460.30Z" fill="#8c564b" />
<path d="M726.85 457.60 L731.00 458.20 L733.50 459.00 L731.00 459.90 L726.85 460.40Z" fill="#bcbd22" />
<path d="M812.00 458.75 H866" stroke="#505050" stroke-width="1.3" stroke-dasharray="1.3 0.55" fill="none"/>
<path d="M726.85 457.00 L812.60 458.70 L726.85 460.80" fill="none" stroke="#000" stroke-width="1.20" stroke-opacity="1.00" stroke-dashoffset="0.00" stroke-dasharray="1.3 1.45" stroke-linecap="butt"/>
<path d="M726.85 457.60 L785.00 458.80 L726.85 460.30" fill="none" stroke="#000" stroke-width="1.10" stroke-opacity="0.90" stroke-dashoffset="0.48" stroke-dasharray="1.3 1.45" stroke-linecap="butt"/>
<path d="M726.85 462.51 L767.00 463.14 L769.80 464.20 L770.40 464.50 L769.80 464.80 L767.00 465.86 L726.85 466.49Z" fill="#9467bd" />
<path d="M726.85 462.51 L742.50 463.84 L745.30 464.20 L745.90 464.50 L745.30 464.80 L742.50 465.16 L726.85 466.49Z" fill="#1f77b4" />
<path d="M726.85 463.20 L803.00 464.50 L726.85 465.80" fill="none" stroke="#000" stroke-width="1.20" stroke-opacity="1.00" stroke-dashoffset="0.00" stroke-dasharray="1.3 1.45" stroke-linecap="butt"/>
<path d="M726.85 462.60 L738.00 463.20 L744.00 464.30 L738.00 465.60 L726.85 466.50Z" fill="#1f77b4" />
<path d="M745.00 464.50 L803.00 464.50" fill="none" stroke="#000" stroke-width="1.20" stroke-opacity="1.00" stroke-dashoffset="1.65" stroke-dasharray="1.3 1.45" stroke-linecap="butt"/>
<path d="M726.85 466.84 L738.00 467.76 L740.80 467.90 L741.40 468.20 L740.80 468.50 L738.00 468.64 L726.85 469.56Z" fill="#d62728" />
<path d="M726.85 467.33 L744.60 468.20 L726.85 469.07" fill="none" stroke="#000" stroke-width="1.20" stroke-opacity="1.00" stroke-dashoffset="0.00" stroke-dasharray="1.3 1.45" stroke-linecap="butt"/>
<path d="M726.85 474.00 L728.20 474.20 L744.80 480.80 L736.00 482.30 L726.85 482.80Z" fill="#bcbd22" />
<path d="M726.85 477.20 L728.20 477.40 L731.20 479.90 L728.20 481.10 L726.85 481.20Z" fill="#d62728" />
<path d="M726.85 474.00 L729.00 474.60 L744.80 480.80 L765.40 480.80" fill="none" stroke="#000" stroke-width="1.30" stroke-opacity="1.00" stroke-dashoffset="0.00" stroke-dasharray="1.3 1.45" stroke-linecap="butt"/>
<path d="M726.85 483.00 L736.00 482.60 L744.80 481.40" fill="none" stroke="#000" stroke-width="1.20" stroke-opacity="1.00" stroke-dashoffset="0.00" stroke-dasharray="1.3 1.45" stroke-linecap="butt"/>
<path d="M730.00 475.90 L740.50 480.00" fill="none" stroke="#000" stroke-width="1.20" stroke-opacity="0.90" stroke-dashoffset="0.76" stroke-dasharray="1.3 1.45" stroke-linecap="butt"/>
<path d="M729.00 476.50 L738.00 480.30" fill="none" stroke="#000" stroke-width="1.10" stroke-opacity="0.80" stroke-dashoffset="2.27" stroke-dasharray="1.3 1.45" stroke-linecap="butt"/>
<path d="M726.85 484.00 L728.20 485.00 L729.40 490.00 L731.00 495.00 L732.80 500.00 L734.00 506.00 L734.60 512.00 L734.20 518.00 L732.40 521.50 L729.80 523.40 L730.60 528.20 L733.40 532.40 L732.40 536.00 L730.60 539.40 L728.70 542.20 L727.80 544.50 L726.85 549.00Z" fill="#1f77b4" />
<path d="M727.20 482.00 L736.00 483.40 L736.00 484.20 L727.20 485.50Z" fill="#2ca02c" />
<path d="M727.65 482.20 L733.56 483.70 L727.65 485.20" fill="none" stroke="#000" stroke-width="1.40" stroke-opacity="1.00" stroke-dashoffset="0.80" stroke-dasharray="1.3 1.45" stroke-linecap="butt"/>
<path d="M727.65 482.20 L737.50 483.70 L727.65 485.20" fill="none" stroke="#000" stroke-width="1.40" stroke-opacity="1.00" stroke-dashoffset="1.34" stroke-dasharray="1.3 1.45" stroke-linecap="butt"/>
<path d="M727.20 485.10 L735.00 486.50 L735.00 487.30 L727.20 488.60Z" fill="#2ca02c" />
<path d="M727.65 485.30 L735.36 486.80 L727.65 488.30" fill="none" stroke="#000" stroke-width="1.40" stroke-opacity="1.00" stroke-dashoffset="0.80" stroke-dasharray="1.3 1.45" stroke-linecap="butt"/>
<path d="M727.65 485.30 L740.50 486.80 L727.65 488.30" fill="none" stroke="#000" stroke-width="1.40" stroke-opacity="1.00" stroke-dashoffset="1.34" stroke-dasharray="1.3 1.45" stroke-linecap="butt"/>
<path d="M727.20 488.90 L734.00 490.30 L734.00 491.10 L727.20 492.40Z" fill="#2ca02c" />
<path d="M727.65 489.10 L734.22 490.60 L727.65 492.10" fill="none" stroke="#000" stroke-width="1.40" stroke-opacity="1.00" stroke-dashoffset="0.80" stroke-dasharray="1.3 1.45" stroke-linecap="butt"/>
<path d="M727.65 489.10 L738.60 490.60 L727.65 492.10" fill="none" stroke="#000" stroke-width="1.40" stroke-opacity="1.00" stroke-dashoffset="1.34" stroke-dasharray="1.3 1.45" stroke-linecap="butt"/>
<path d="M727.40 493.40 L734.00 494.70 L734.00 495.30 L727.40 496.40Z" fill="#2ca02c" />
<path d="M727.65 493.50 L733.86 494.90 L727.65 496.30" fill="none" stroke="#000" stroke-width="1.40" stroke-opacity="1.00" stroke-dashoffset="0.80" stroke-dasharray="1.3 1.45" stroke-linecap="butt"/>
<path d="M727.65 493.50 L738.00 494.90 L727.65 496.30" fill="none" stroke="#000" stroke-width="1.40" stroke-opacity="1.00" stroke-dashoffset="1.34" stroke-dasharray="1.3 1.45" stroke-linecap="butt"/>
<path d="M727.40 495.30 L734.00 496.60 L734.00 497.20 L727.40 498.30Z" fill="#1f77b4" />
<path d="M727.65 495.40 L738.30 496.80 L727.65 498.20" fill="none" stroke="#000" stroke-width="1.40" stroke-opacity="1.00" stroke-dashoffset="0.80" stroke-dasharray="1.3 1.45" stroke-linecap="butt"/>
<path d="M727.65 495.40 L745.40 496.80 L727.65 498.20" fill="none" stroke="#000" stroke-width="1.40" stroke-opacity="1.00" stroke-dashoffset="1.34" stroke-dasharray="1.3 1.45" stroke-linecap="butt"/>
<path d="M727.40 498.40 L734.00 499.70 L734.00 500.30 L727.40 501.40Z" fill="#1f77b4" />
<path d="M727.65 498.50 L735.06 499.90 L727.65 501.30" fill="none" stroke="#000" stroke-width="1.40" stroke-opacity="1.00" stroke-dashoffset="0.80" stroke-dasharray="1.3 1.45" stroke-linecap="butt"/>
<path d="M727.65 498.50 L740.00 499.90 L727.65 501.30" fill="none" stroke="#000" stroke-width="1.40" stroke-opacity="1.00" stroke-dashoffset="1.34" stroke-dasharray="1.3 1.45" stroke-linecap="butt"/>
<path d="M727.40 502.10 L734.00 503.40 L734.00 504.00 L727.40 505.10Z" fill="#17becf" />
<path d="M727.65 502.20 L735.24 503.60 L727.65 505.00" fill="none" stroke="#000" stroke-width="1.40" stroke-opacity="1.00" stroke-dashoffset="0.80" stroke-dasharray="1.3 1.45" stroke-linecap="butt"/>
<path d="M727.65 502.20 L740.30 503.60 L727.65 505.00" fill="none" stroke="#000" stroke-width="1.40" stroke-opacity="1.00" stroke-dashoffset="1.34" stroke-dasharray="1.3 1.45" stroke-linecap="butt"/>
<path d="M729.62 501.41 L732.91 502.34 L732.91 503.75 L729.62 504.22Z" fill="#17becf" />
<path d="M731.50 504.40 L743.97 506.10 L731.50 507.80" fill="none" stroke="#000" stroke-width="1.40" stroke-opacity="1.00" stroke-dashoffset="1.90" stroke-dasharray="1.3 1.45" stroke-linecap="butt"/>
<path d="M731.50 504.40 L751.58 506.10 L731.50 507.80" fill="none" stroke="#000" stroke-width="1.40" stroke-opacity="1.00" stroke-dashoffset="2.44" stroke-dasharray="1.3 1.45" stroke-linecap="butt"/>
<path d="M731.50 504.40 L759.20 506.10 L731.50 507.80" fill="none" stroke="#000" stroke-width="1.40" stroke-opacity="1.00" stroke-dashoffset="0.23" stroke-dasharray="1.3 1.45" stroke-linecap="butt"/>
<path d="M732.00 507.20 L741.30 508.60 L732.00 510.00" fill="none" stroke="#000" stroke-width="1.40" stroke-opacity="1.00" stroke-dashoffset="2.40" stroke-dasharray="1.3 1.45" stroke-linecap="butt"/>
<path d="M732.00 507.20 L747.50 508.60 L732.00 510.00" fill="none" stroke="#000" stroke-width="1.40" stroke-opacity="1.00" stroke-dashoffset="0.19" stroke-dasharray="1.3 1.45" stroke-linecap="butt"/>
<path d="M732.00 509.20 L744.24 510.80 L732.00 512.40" fill="none" stroke="#000" stroke-width="1.40" stroke-opacity="1.00" stroke-dashoffset="2.40" stroke-dasharray="1.3 1.45" stroke-linecap="butt"/>
<path d="M732.00 509.20 L751.72 510.80 L732.00 512.40" fill="none" stroke="#000" stroke-width="1.40" stroke-opacity="1.00" stroke-dashoffset="0.19" stroke-dasharray="1.3 1.45" stroke-linecap="butt"/>
<path d="M732.00 509.20 L759.20 510.80 L732.00 512.40" fill="none" stroke="#000" stroke-width="1.40" stroke-opacity="1.00" stroke-dashoffset="0.73" stroke-dasharray="1.3 1.45" stroke-linecap="butt"/>
<path d="M732.00 512.60 L739.78 514.10 L732.00 515.60" fill="none" stroke="#000" stroke-width="1.40" stroke-opacity="1.00" stroke-dashoffset="2.40" stroke-dasharray="1.3 1.45" stroke-linecap="butt"/>
<path d="M732.00 512.60 L744.54 514.10 L732.00 515.60" fill="none" stroke="#000" stroke-width="1.40" stroke-opacity="1.00" stroke-dashoffset="0.19" stroke-dasharray="1.3 1.45" stroke-linecap="butt"/>
<path d="M732.00 512.60 L749.30 514.10 L732.00 515.60" fill="none" stroke="#000" stroke-width="1.40" stroke-opacity="1.00" stroke-dashoffset="0.73" stroke-dasharray="1.3 1.45" stroke-linecap="butt"/>
<path d="M728.69 515.00 L735.25 515.94 L739.00 517.06 L735.25 518.00 L728.69 518.75Z" fill="#17becf" />
<path d="M733.37 516.12 L736.66 516.69 L739.00 517.25 L736.19 517.62Z" fill="#bcbd22" />
<path d="M732.00 516.50 L745.65 518.30 L732.00 520.10" fill="none" stroke="#000" stroke-width="1.45" stroke-opacity="1.00" stroke-dashoffset="2.40" stroke-dasharray="1.3 1.45" stroke-linecap="butt"/>
<path d="M732.00 516.50 L754.10 518.30 L732.00 520.10" fill="none" stroke="#000" stroke-width="1.45" stroke-opacity="1.00" stroke-dashoffset="0.19" stroke-dasharray="1.3 1.45" stroke-linecap="butt"/>
<path d="M732.00 516.50 L762.55 518.30 L732.00 520.10" fill="none" stroke="#000" stroke-width="1.45" stroke-opacity="1.00" stroke-dashoffset="0.73" stroke-dasharray="1.3 1.45" stroke-linecap="butt"/>
<path d="M732.00 516.50 L771.00 518.30 L732.00 520.10" fill="none" stroke="#000" stroke-width="1.45" stroke-opacity="1.00" stroke-dashoffset="1.27" stroke-dasharray="1.3 1.45" stroke-linecap="butt"/>
<path d="M727.75 520.81 L733.37 521.00 L740.87 521.75 L742.37 524.56 L740.12 527.19 L738.25 528.12 L731.03 528.31 L729.81 524.56 L727.75 523.91Z" fill="#17becf" />
<path d="M739.47 521.37 L744.16 521.75 L746.03 522.31 L741.81 522.69Z" fill="#bcbd22" />
<path d="M727.75 520.44 L735.25 521.19 L804.81 522.31" fill="none" stroke="#000" stroke-width="1.45" stroke-opacity="1.00" stroke-dashoffset="0.90" stroke-dasharray="1.3 1.45" stroke-linecap="butt"/>
<path d="M742.75 521.56 L772.75 522.31" fill="none" stroke="#000" stroke-width="1.40" stroke-opacity="1.00" stroke-dashoffset="2.15" stroke-dasharray="1.3 1.45" stroke-linecap="butt"/>
<path d="M744.16 522.12 L784.00 522.31" fill="none" stroke="#000" stroke-width="1.40" stroke-opacity="1.00" stroke-dashoffset="1.23" stroke-dasharray="1.3 1.45" stroke-linecap="butt"/>
<path d="M741.81 522.69 L763.37 522.31" fill="none" stroke="#000" stroke-width="1.40" stroke-opacity="1.00" stroke-dashoffset="2.05" stroke-dasharray="1.3 1.45" stroke-linecap="butt"/>
<path d="M746.50 523.25 L795.25 522.31" fill="none" stroke="#000" stroke-width="1.40" stroke-opacity="1.00" stroke-dashoffset="1.66" stroke-dasharray="1.3 1.45" stroke-linecap="butt"/>
<path d="M742.75 523.62 L772.75 522.50" fill="none" stroke="#000" stroke-width="1.40" stroke-opacity="1.00" stroke-dashoffset="2.39" stroke-dasharray="1.3 1.45" stroke-linecap="butt"/>
<path d="M743.22 524.19 L776.50 524.84" fill="none" stroke="#000" stroke-width="1.45" stroke-opacity="1.00" stroke-dashoffset="2.62" stroke-dasharray="1.3 1.45" stroke-linecap="butt"/>
<path d="M744.16 525.50 L776.50 524.84" fill="none" stroke="#000" stroke-width="1.45" stroke-opacity="1.00" stroke-dashoffset="1.17" stroke-dasharray="1.3 1.45" stroke-linecap="butt"/>
<path d="M745.56 524.56 L770.87 524.84" fill="none" stroke="#000" stroke-width="1.45" stroke-opacity="1.00" stroke-dashoffset="0.18" stroke-dasharray="1.3 1.45" stroke-linecap="butt"/>
<path d="M746.50 525.12 L768.06 524.84" fill="none" stroke="#000" stroke-width="1.45" stroke-opacity="1.00" stroke-dashoffset="1.48" stroke-dasharray="1.3 1.45" stroke-linecap="butt"/>
<path d="M741.81 527.00 L766.19 528.12" fill="none" stroke="#000" stroke-width="1.45" stroke-opacity="1.00" stroke-dashoffset="1.21" stroke-dasharray="1.3 1.45" stroke-linecap="butt"/>
<path d="M742.75 530.19 L766.19 528.31" fill="none" stroke="#000" stroke-width="1.45" stroke-opacity="1.00" stroke-dashoffset="2.45" stroke-dasharray="1.3 1.45" stroke-linecap="butt"/>
<path d="M744.16 527.75 L761.50 528.22" fill="none" stroke="#000" stroke-width="1.45" stroke-opacity="1.00" stroke-dashoffset="1.41" stroke-dasharray="1.3 1.45" stroke-linecap="butt"/>
<path d="M745.09 529.44 L761.50 528.41" fill="none" stroke="#000" stroke-width="1.45" stroke-opacity="1.00" stroke-dashoffset="2.64" stroke-dasharray="1.3 1.45" stroke-linecap="butt"/>
<path d="M747.44 528.59 L759.62 528.31" fill="none" stroke="#000" stroke-width="1.45" stroke-opacity="1.00" stroke-dashoffset="2.54" stroke-dasharray="1.3 1.45" stroke-linecap="butt"/>
<path d="M730.56 528.12 L738.53 527.94 L738.06 531.41 L740.12 532.34 L739.94 537.50 L736.19 539.56 L732.91 542.00 L729.81 544.62 L728.69 545.94 L728.31 544.06 L730.37 539.37 L732.44 535.62 L733.37 532.34Z" fill="#bcbd22" />
<path d="M740.12 532.34 L747.44 532.81 L754.94 533.56 L758.31 534.03 L752.12 534.97 L747.44 536.19 L742.75 537.59 L738.06 539.84 L735.81 540.22 L739.94 537.50Z" fill="#ff7f0e" />
<path d="M742.75 531.31 L746.97 531.69 L746.50 532.44 L742.28 532.16Z" fill="#1f77b4" />
<path d="M747.44 531.87 L812.59 533.94 L774.62 535.44" fill="none" stroke="#000" stroke-width="1.45" stroke-opacity="1.00" stroke-dashoffset="1.34" stroke-dasharray="1.3 1.45" stroke-linecap="butt"/>
<path d="M749.31 532.44 L799.00 533.94" fill="none" stroke="#000" stroke-width="1.45" stroke-opacity="1.00" stroke-dashoffset="0.46" stroke-dasharray="1.3 1.45" stroke-linecap="butt"/>
<path d="M751.19 533.00 L797.12 533.94" fill="none" stroke="#000" stroke-width="1.45" stroke-opacity="1.00" stroke-dashoffset="2.61" stroke-dasharray="1.3 1.45" stroke-linecap="butt"/>
<path d="M752.12 534.87 L793.37 533.94" fill="none" stroke="#000" stroke-width="1.45" stroke-opacity="1.00" stroke-dashoffset="1.06" stroke-dasharray="1.3 1.45" stroke-linecap="butt"/>
<path d="M754.00 533.56 L789.62 533.94" fill="none" stroke="#000" stroke-width="1.45" stroke-opacity="1.00" stroke-dashoffset="0.46" stroke-dasharray="1.3 1.45" stroke-linecap="butt"/>
<path d="M754.94 534.50 L785.87 533.94" fill="none" stroke="#000" stroke-width="1.45" stroke-opacity="1.00" stroke-dashoffset="1.67" stroke-dasharray="1.3 1.45" stroke-linecap="butt"/>
<path d="M750.25 535.62 L780.25 533.94" fill="none" stroke="#000" stroke-width="1.45" stroke-opacity="1.00" stroke-dashoffset="2.75" stroke-dasharray="1.3 1.45" stroke-linecap="butt"/>
<path d="M756.81 534.12 L782.12 533.94" fill="none" stroke="#000" stroke-width="1.45" stroke-opacity="1.00" stroke-dashoffset="1.33" stroke-dasharray="1.3 1.45" stroke-linecap="butt"/>
<path d="M744.16 537.03 L789.62 536.00 L763.37 537.12" fill="none" stroke="#000" stroke-width="1.45" stroke-opacity="1.00" stroke-dashoffset="0.81" stroke-dasharray="1.3 1.45" stroke-linecap="butt"/>
<path d="M746.50 536.56 L776.50 535.91" fill="none" stroke="#000" stroke-width="1.45" stroke-opacity="1.00" stroke-dashoffset="0.82" stroke-dasharray="1.3 1.45" stroke-linecap="butt"/>
<path d="M748.37 537.50 L780.25 536.37" fill="none" stroke="#000" stroke-width="1.45" stroke-opacity="1.00" stroke-dashoffset="2.45" stroke-dasharray="1.3 1.45" stroke-linecap="butt"/>
<path d="M728.80 547.40 L731.50 544.80 L737.00 542.30 L749.31 540.12 L761.50 538.25 L775.09 536.94" fill="none" stroke="#000" stroke-width="1.45" stroke-opacity="1.00" stroke-dashoffset="1.95" stroke-dasharray="1.3 1.45" stroke-linecap="butt"/>
<path d="M740.87 541.06 L754.94 538.62 L770.87 536.75" fill="none" stroke="#000" stroke-width="1.45" stroke-opacity="1.00" stroke-dashoffset="0.69" stroke-dasharray="1.3 1.45" stroke-linecap="butt"/>
<path d="M739.94 541.81 L752.12 539.75 L768.06 537.87" fill="none" stroke="#000" stroke-width="1.45" stroke-opacity="1.00" stroke-dashoffset="2.21" stroke-dasharray="1.3 1.45" stroke-linecap="butt"/>
<path d="M747.44 539.84 L764.31 537.50" fill="none" stroke="#000" stroke-width="1.45" stroke-opacity="1.00" stroke-dashoffset="2.00" stroke-dasharray="1.3 1.45" stroke-linecap="butt"/>
<path d="M727.94 546.12 L729.62 546.50 L729.81 548.00 L727.94 548.75Z" fill="#e377c2" />
<path d="M727.55 174.4 V551.5" stroke="#0b4f6c" stroke-width="0.9" fill="none"/>
</g>
<rect x="120.00" y="157.00" width="385.78" height="412.85" fill="none" stroke="#000" stroke-width="2.00"/>
<rect x="522.25" y="157.00" width="85.53" height="412.85" fill="none" stroke="#000" stroke-width="2.00"/>
<rect x="624.25" y="157.00" width="85.53" height="412.85" fill="none" stroke="#000" stroke-width="2.00"/>
<rect x="726.25" y="157.00" width="137.75" height="412.85" fill="none" stroke="#000" stroke-width="2.00"/>
<text x="120.00" y="591.90" text-anchor="middle" >Γ</text>
<text x="164.00" y="591.90" text-anchor="middle" >X</text>
<text x="207.75" y="591.90" text-anchor="middle" >M</text>
<text x="270.00" y="591.90" text-anchor="middle" >Γ</text>
<text x="355.25" y="591.90" text-anchor="middle" >Z</text>
<text x="399.75" y="591.90" text-anchor="middle" >R</text>
<text x="443.25" y="591.90" text-anchor="middle" >A</text>
<text x="505.20" y="591.90" text-anchor="middle" >Z</text>
<text x="522.30" y="591.90" text-anchor="middle" >X</text>
<text x="608.10" y="591.90" text-anchor="middle" >R</text>
<text x="624.30" y="591.90" text-anchor="middle" >M</text>
<text x="710.20" y="591.90" text-anchor="middle" >A</text>
<text x="726.20" y="592.70" text-anchor="middle" >0</text>
<text x="800.20" y="592.70" text-anchor="middle" >25</text>
<text x="111.80" y="558.50" text-anchor="end" >0</text>
<text x="111.80" y="487.00" text-anchor="end" >20</text>
<text x="111.80" y="415.50" text-anchor="end" >40</text>
<text x="111.80" y="344.00" text-anchor="end" >60</text>
<text x="111.80" y="272.50" text-anchor="end" >80</text>
<text x="111.80" y="201.00" text-anchor="end" >100</text>
<text transform="translate(59.5 363.4) rotate(-90)" text-anchor="middle">Frequency (THz)</text>
</svg></body></html>
